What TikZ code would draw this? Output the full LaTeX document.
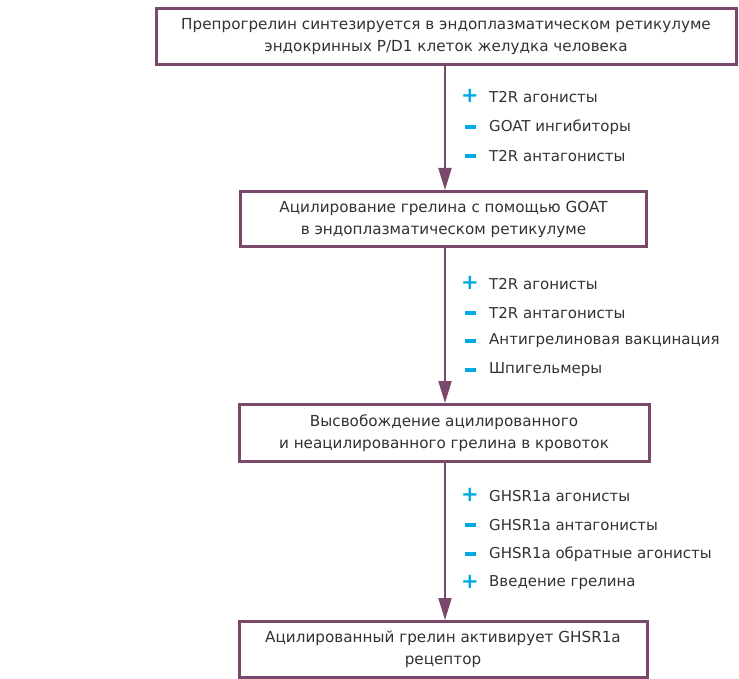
\documentclass[tikz,border=0pt]{standalone}
\usepackage{fontspec}
\setmainfont{DejaVu Sans}
\usetikzlibrary{arrows.meta}
\definecolor{plum}{RGB}{122,72,106}
\definecolor{sky}{RGB}{0,170,228}
\definecolor{ink}{RGB}{50,50,50}
\tikzset{
  stage/.style={draw=plum, line width=3pt, fill=white, align=center, text=ink,
    font=\fontsize{15.2}{22}\selectfont, inner sep=0pt},
  flow/.style={draw=plum, line width=2pt, -{Triangle[length=22pt, width=13pt]}},
  signplus/.style={text=sky, font=\fontsize{21}{21}\selectfont\bfseries, inner sep=0pt},
  signminus/.style={fill=sky, minimum width=11pt, minimum height=4pt, inner sep=0pt},
  effect/.style={anchor=west, text=ink, font=\fontsize{15}{18}\selectfont, inner sep=0pt}
}
\begin{document}
\begin{tikzpicture}[x=1pt,y=-1pt]
\useasboundingbox (0,0) rectangle (739,679);
% stages
\node[stage, minimum width=580pt, minimum height=56pt] (synth) at (446,37)
  {Препрогрелин синтезируется в эндоплазматическом ретикулуме\\эндокринных P/D1 клеток желудка человека};
\node[stage, minimum width=406pt, minimum height=55pt] (acyl) at (443.5,219)
  {Ацилирование грелина с помощью GOAT\\в эндоплазматическом ретикулуме};
\node[stage, minimum width=410pt, minimum height=57pt] (release) at (444,433)
  {Высвобождение ацилированного\\и неацилированного грелина в кровоток};
\node[stage, minimum width=408pt, minimum height=56pt] (active) at (443,649.5)
  {Ацилированный грелин активирует GHSR1a\\рецептор};
% arrows
\draw[flow] (synth.south -| 445,0) -- (acyl.north -| 445,0);
\draw[flow] (acyl.south -| 445,0) -- (release.north -| 445,0);
\draw[flow] (release.south -| 445,0) -- (active.north -| 445,0);
% first step
\node[signplus] (s1a) at (470,96) {+};
\node[effect] (e1a) at (489,97) {T2R агонисты};
\node[signminus] (s1b) at (470,127) {};
\node[effect] (e1b) at (489,127) {GOAT ингибиторы};
\node[signminus] (s1c) at (470,156) {};
\node[effect] (e1c) at (489,156) {T2R антагонисты};
% second step
\node[signplus] (s2a) at (470,283) {+};
\node[effect] (e2a) at (489,284) {T2R агонисты};
\node[signminus] (s2b) at (470,313) {};
\node[effect] (e2b) at (489,313) {T2R антагонисты};
\node[signminus] (s2c) at (470,341) {};
\node[effect] (e2c) at (489,341) {Антигрелиновая вакцинация};
\node[signminus] (s2d) at (470,370) {};
\node[effect] (e2d) at (489,370) {Шпигельмеры};
% third step
\node[signplus] (s3a) at (470,495) {+};
\node[effect] (e3a) at (489,496) {GHSR1a агонисты};
\node[signminus] (s3b) at (470,525) {};
\node[effect] (e3b) at (489,525) {GHSR1a антагонисты};
\node[signminus] (s3c) at (470,554) {};
\node[effect] (e3c) at (489,554) {GHSR1a обратные агонисты};
\node[signplus] (s3d) at (470,582) {+};
\node[effect] (e3d) at (489,583) {Введение грелина};
\end{tikzpicture}
\end{document}
